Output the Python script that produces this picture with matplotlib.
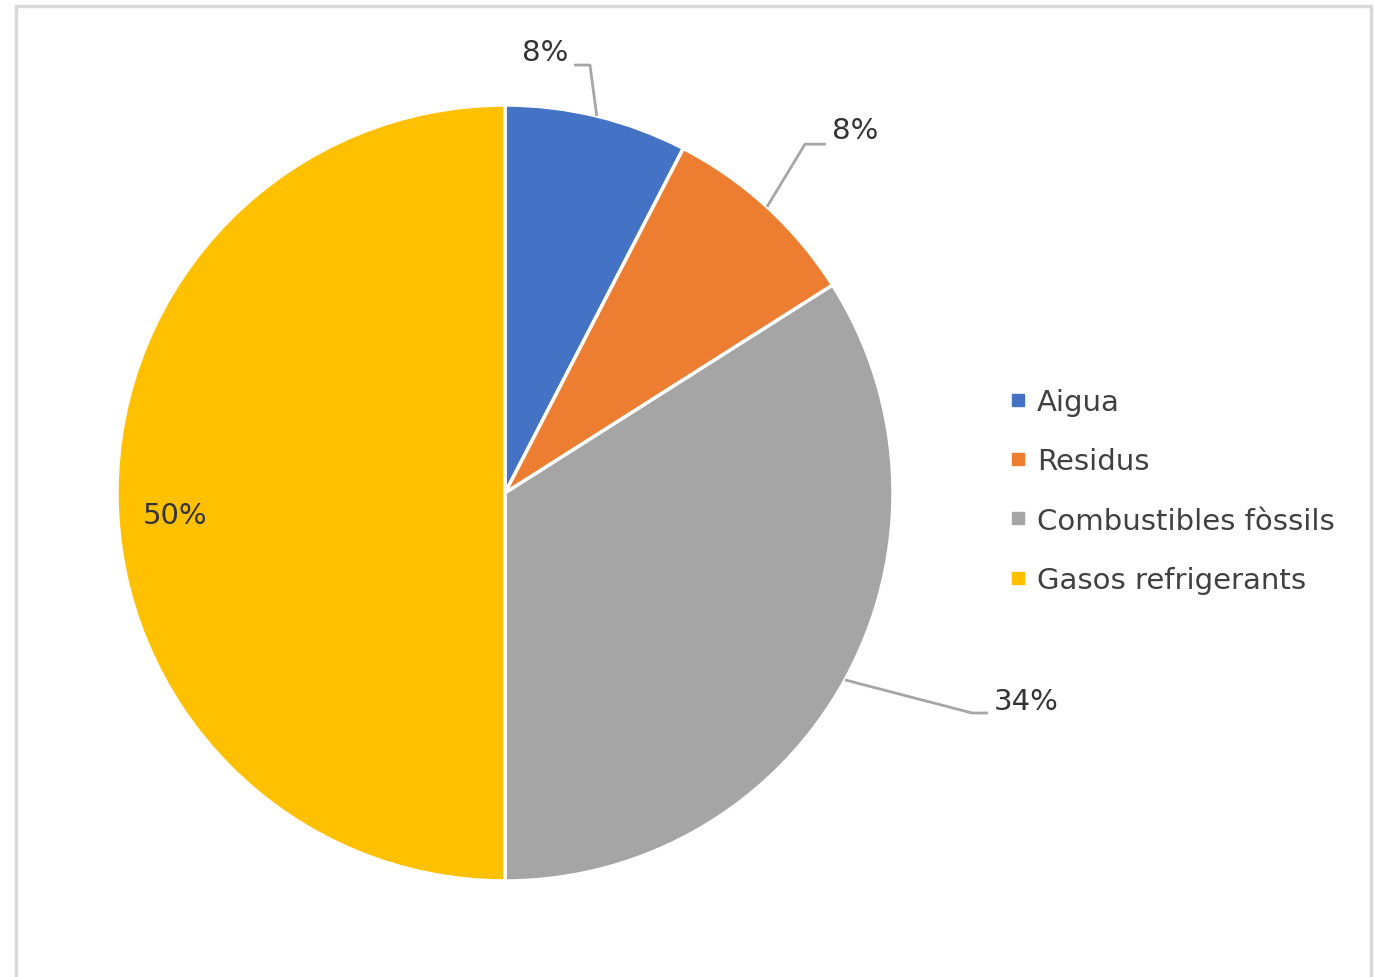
import numpy as np
import matplotlib.pyplot as plt
from matplotlib.lines import Line2D
from matplotlib.patches import Rectangle

categories = ['Aigua', 'Residus', 'Combustibles fòssils', 'Gasos refrigerants']
values = [7.6, 8.4, 34.0, 50.0]
colors = ['#4472C4', '#ED7D31', '#A5A5A5', '#FFC000']

W, H = 1374, 978
fig = plt.figure(figsize=(W / 100, H / 100), dpi=100)
plt.rcParams['font.family'] = ['DejaVu Sans']

# pie axes placed so the circle sits where it does in the reference
cx, cy, r = 505, 494, 388
ax = fig.add_axes([(cx - r) / W, (H - cy - r) / H, 2 * r / W, 2 * r / H])
wedges, _ = ax.pie(values, colors=colors, startangle=90, counterclock=False,
                   radius=1, wedgeprops=dict(edgecolor='white', linewidth=2.5))
ax.set_xlim(-1, 1)
ax.set_ylim(-1, 1)
ax.set_aspect('equal')
ax.axis('off')
ax.set_clip_on(False)

txt_color = '#333333'
line_color = '#A6A6A6'
labels = ['{:.0f}%'.format(v) for v in values]

# leader-line layout: (elbow, line end, text pos, ha)
layout = [
    ((0.219, 1.103), (0.178, 1.103), (0.163, 1.137), 'right'),
    ((0.773, 0.899), (0.827, 0.899), (0.842, 0.936), 'left'),
    ((1.204, -0.567), (1.245, -0.567), (1.260, -0.536), 'left'),
]

for w, lab, lay in zip(wedges[:3], labels[:3], layout):
    mid = np.deg2rad((w.theta1 + w.theta2) / 2)
    p0 = (np.cos(mid), np.sin(mid))
    (ex, ey), (lx, ly), (tx, ty), ha = lay
    ax.plot([p0[0], ex, lx], [p0[1], ey, ly], color=line_color, lw=2,
            clip_on=False, solid_capstyle='butt')
    ax.text(tx, ty, lab, ha=ha, va='center', fontsize=21, color=txt_color,
            clip_on=False)

ax.text(-0.851, -0.057, labels[3], ha='center', va='center', fontsize=21,
        color=txt_color)

handles = [Line2D([], [], marker='s', linestyle='none', markersize=8,
                  markerfacecolor=c, markeredgecolor=c) for c in colors]
fig.legend(handles, categories, loc='center left',
           bbox_to_anchor=(983 / W, 1 - 492 / H), frameon=False,
           fontsize=21, labelcolor='#404040', handlelength=0.6,
           handletextpad=0.35, labelspacing=1.07)

# light grey frame around the chart area (bottom edge cut off)
fig.patches.append(Rectangle((15.5 / W, -0.05), (1371 - 15.5) / W, 1.05 - 6.5 / H,
                             transform=fig.transFigure, fill=False,
                             edgecolor='#D9D9D9', linewidth=2.5))

fig.savefig('out.png', dpi=100)
